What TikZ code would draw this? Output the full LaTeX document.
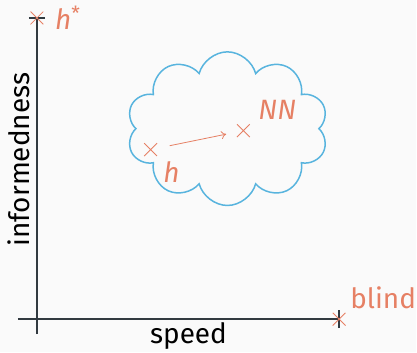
\documentclass[tikz,border=0pt]{standalone}
\usepackage{fontspec}
\setmainfont{Fira Sans}
\usetikzlibrary{shapes.misc,shapes.symbols,arrows.meta,positioning}
\definecolor{accent}{RGB}{230,128,100}
\definecolor{cloudblue}{RGB}{88,180,222}
\definecolor{axisgray}{RGB}{50,58,64}
\definecolor{paper}{RGB}{250,250,250}
\begin{document}
\begin{tikzpicture}[
    x=1pt, y=-1pt,
    every node/.style={font=\fontsize{28}{32}\selectfont},
    crossmark/.style={cross out, draw=accent, line width=.8pt,
        minimum size=12pt, inner sep=0pt},
    tag/.style={text=accent, inner sep=1pt}]
    % Fondo.
    \fill[paper] (0,0) rectangle (417,353);

    % Ejes.
    \coordinate (ytop) at (37,18);
    \coordinate (ybot) at (37,335);
    \coordinate (xleft) at (18,320);
    \coordinate (xright) at (340,320);
    \draw[axisgray,line width=1.4pt] (ybot) -- (ytop);
    \draw[axisgray,line width=1.4pt] (xleft) -- (xright);
    \draw[axisgray,line width=1.4pt] ([xshift=-8pt]ytop) -- ([xshift=8pt]ytop);
    \draw[axisgray,line width=1.4pt] ([yshift=-9pt]xright) -- ([yshift=9pt]xright);
    \node (speed) at (189,337) {speed};
    \node[rotate=90] (inform) at (19,160) {informedness};

    % Nube.
    \node[cloud, cloud puffs=10, cloud ignores aspect, draw=cloudblue,
        line width=1.5pt, minimum width=202pt, minimum height=154pt]
        (space) at (228,129) {};

    % Puntos.
    \node[crossmark] (hstar) at (ytop) {};
    \node[crossmark] (blind) at (xright) {};
    \node[crossmark] (h) at (151,150) {};
    \node[crossmark] (nn) at (244,131) {};
    \draw[accent,line width=.8pt,-{To[length=5pt,width=8pt]},
        shorten <=13pt, shorten >=11pt] (h) -- (nn);

    % Etiquetas.
    \node[tag,right=17pt of hstar.center,anchor=west] (hstarlab) {\textit{h}\textsuperscript{*}};
    \node[tag,anchor=west] (blindlab) at (350,299) {blind};
    \node[tag] (nnlab) at (278,110) {\textit{NN}};
    \node[tag] (hlab) at (172,173) {\textit{h}};
\end{tikzpicture}
\end{document}
